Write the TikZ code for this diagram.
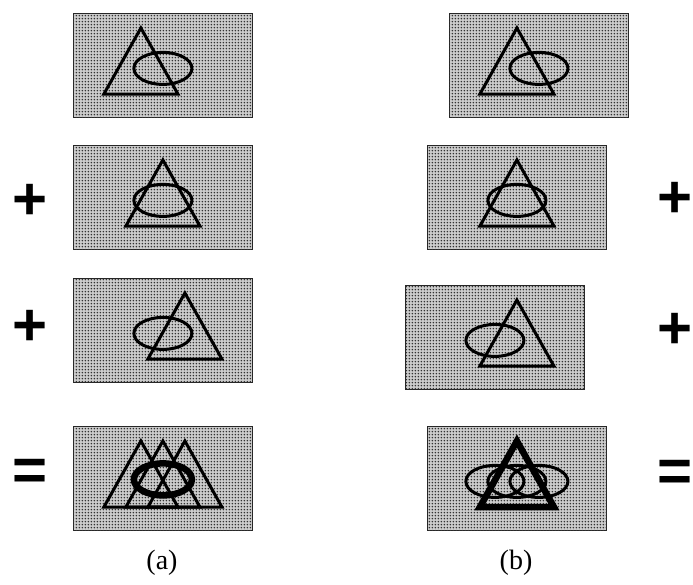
\documentclass[tikz,border=0pt]{standalone}
\usepackage{fontspec}
\setmainfont{Liberation Serif}
\newfontfamily\signfont{Liberation Sans}
\usetikzlibrary{patterns.meta,calc}
\tikzdeclarepattern{
  name=fdots,
  type=uncolored,
  bounding box={(0pt,0pt) and (3.3pt,3.3pt)},
  tile size={(3.3pt,3.3pt)},
  code={\fill (1.65pt,1.65pt) circle (1pt);}
}

\begin{document}
\begin{tikzpicture}[x=1pt,y=-1pt,
  panel/.style={draw=black!85,line width=0.8pt,fill=black!20,
    postaction={pattern=fdots,pattern color=black!80},
    minimum width=179pt,minimum height=104pt,inner sep=0pt,anchor=north west},
  fig/.style={line width=3pt},
  heavy/.style={line width=6.5pt},
  sign/.style={font=\signfont\bfseries\fontsize{60}{60}\selectfont,inner sep=0pt},
  sublabel/.style={font=\fontsize{28}{32}\selectfont,inner sep=0pt}]
  \useasboundingbox (0,0) rectangle (693,584);
  % rows 1-3: (a) ellipse stays, triangle moves; (b) triangle stays, box moves
  \foreach \r/\ya/\xb/\yb/\t in {1/13/449/13/-22,2/145/427/145/0,3/278/405/285/22}{
    \node[panel] (a\r) at (73,\ya) {};
    \node[panel] (b\r) at (\xb,\yb) {};
    \foreach \c in {a,b}{
      \draw[fig] ($(\c\r.north)+(\t,15)$) -- ++(-37,66) -- ++(74,0) -- cycle;
      \draw[fig] ($(\c\r.center)+(0,3)$) ellipse (29 and 16);}
  }
  % sums
  \node[panel] (a4) at (73,426) {};
  \node[panel] (b4) at (427,426) {};
  \foreach \t in {-22,0,22}{
    \draw[fig] ($(a4.north)+(\t,15)$) -- ++(-37,66) -- ++(74,0) -- cycle;
    \draw[fig] ($(b4.center)+(\t,3)$) ellipse (29 and 16);}
  \draw[heavy] ($(a4.center)+(0,1)$) ellipse (29 and 16);
  \draw[heavy] ($(b4.north)+(0,15)$) -- ++(-37,66) -- ++(74,0) -- cycle;
  % signs and labels
  \node[sign] (pa2) at (30,202) {+};
  \node[sign] (pa3) at (30,328) {+};
  \node[sign] (ea) at (30,475) {=};
  \node[sign,anchor=east] (pb2) at (693,200) {+};
  \node[sign,anchor=east] (pb3) at (693,331) {+};
  \node[sign,anchor=east] (eb) at (693,476) {=};
  \node[sublabel] (la) at (162,563) {(a)};
  \node[sublabel] (lb) at (516,563) {(b)};
\end{tikzpicture}
\end{document}
